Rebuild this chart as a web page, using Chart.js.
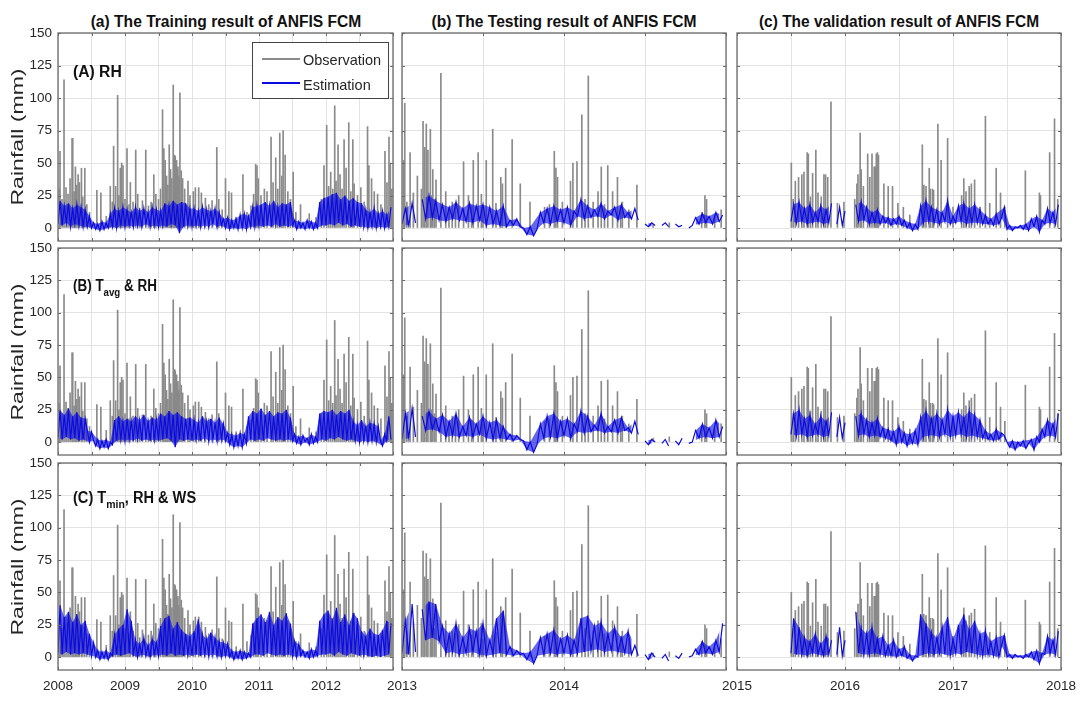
<!DOCTYPE html>
<html>
<head>
<meta charset="utf-8">
<script src="https://cdn.jsdelivr.net/npm/chart.js@4.4.1/dist/chart.umd.min.js"></script>
<style>
  html, body { margin: 0; padding: 0; background: #fff; overflow: hidden; }
  #fig { position: relative; width: 1085px; height: 702px; font-family: "Liberation Sans", Arial, sans-serif; color: #111; }
  #fig canvas { position: absolute; }
  .title { position: absolute; top: 13.5px; font-weight: bold; font-size: 16px; line-height: 16px; white-space: nowrap; transform-origin: center center; }
  .tag { position: absolute; left: 73px; font-weight: bold; font-size: 16px; line-height: 16px; white-space: nowrap; transform-origin: left center; }
  .tag sub { font-size: 11.5px; vertical-align: -5px; line-height: 0; }
  .ylab { position: absolute; left: 17px; font-size: 17px; line-height: 17px; white-space: nowrap; color: #262626; }
  #legend { position: absolute; left: 252px; top: 42px; width: 137px; height: 57px; box-sizing: border-box; border: 1px solid #444; background: #fff; }
  #legend .ln { position: absolute; left: 9px; width: 38px; }
  #legend span { position: absolute; left: 50px; font-size: 14.5px; line-height: 14.5px; color: #262626; white-space: nowrap; }
</style>
</head>
<body>
<div id="fig">
  <div class="title" data-w="271" data-cx="225.5">(a) The Training result of ANFIS FCM</div>
  <div class="title" data-w="265" data-cx="564">(b) The Testing result of ANFIS FCM</div>
  <div class="title" data-w="280" data-cx="899">(c) The validation result of ANFIS FCM</div>
</div>
<script>
// panel titles / row labels
const rowTags = ['(A) RH', '(B) T<sub>avg</sub> &amp; RH', '(C) T<sub>min</sub>, RH &amp; WS'];
const yTitle = 'Rainfall (mm)';
const legendNames = ['Observation', 'Estimation'];

// x tick labels shown under each column
const yearsTrain = [2008, 2009, 2010, 2011, 2012];
const yearsTest = [2013, 2014];
const yearsValid = [2015, 2016, 2017, 2018];
const yTicks = [0, 25, 50, 75, 100, 125, 150];

// observed rainfall spikes [decimal year, mm] (same for all three rows)
const obsTrain = [
  [2008.02,30],[2008.03,59],[2008.06,22],[2008.09,114],[2008.12,31],[2008.15,26],[2008.18,38],[2008.21,69],[2008.22,69],
  [2008.24,28],[2008.26,47],[2008.28,33],[2008.30,41],[2008.32,35],[2008.35,46],[2008.37,24],[2008.40,46],[2008.43,18],
  [2008.47,12],[2008.58,29],[2008.64,27],[2008.72,9],[2008.78,32],[2008.81,20],[2008.83,63],[2008.86,32],[2008.89,102],
  [2008.91,25],[2008.93,46],[2008.95,50],[2008.97,48],[2009.00,22],[2009.03,61],[2009.06,18],[2009.08,35],[2009.12,20],
  [2009.16,60],[2009.19,26],[2009.22,15],[2009.26,21],[2009.31,60],[2009.35,17],[2009.39,20],[2009.43,41],[2009.46,26],
  [2009.50,22],[2009.53,30],[2009.56,91],[2009.58,61],[2009.60,52],[2009.62,40],[2009.64,33],[2009.66,64],[2009.68,45],
  [2009.70,38],[2009.72,110],[2009.73,48],[2009.74,56],[2009.75,55],[2009.76,42],[2009.77,52],[2009.78,45],[2009.79,47],
  [2009.80,40],[2009.81,38],[2009.82,104],[2009.84,44],[2009.86,38],[2009.89,30],[2009.94,36],[2009.97,25],[2010.02,28],
  [2010.05,31],[2010.10,31],[2010.14,27],[2010.20,23],[2010.25,18],[2010.30,21],[2010.37,62],[2010.40,22],[2010.45,14],
  [2010.50,38],[2010.55,28],[2010.59,27],[2010.66,8],[2010.76,41],[2010.82,12],[2010.88,17],[2010.92,26],[2010.95,49],
  [2010.97,48],[2010.99,38],[2011.03,25],[2011.08,30],[2011.12,28],[2011.18,70],[2011.21,35],[2011.25,54],[2011.28,30],
  [2011.31,73],[2011.34,40],[2011.36,75],[2011.39,56],[2011.43,28],[2011.47,22],[2011.51,43],[2011.55,12],[2011.62,18],
  [2011.75,11],[2011.85,8],[2011.93,22],[2011.97,48],[2012.01,79],[2012.04,32],[2012.07,43],[2012.10,30],[2012.13,94],
  [2012.15,36],[2012.18,64],[2012.21,41],[2012.24,30],[2012.27,68],[2012.30,46],[2012.34,81],[2012.37,28],[2012.40,68],
  [2012.42,34],[2012.47,25],[2012.52,31],[2012.57,20],[2012.62,78],[2012.64,48],[2012.68,38],[2012.72,28],[2012.77,26],
  [2012.82,18],[2012.88,59],[2012.91,35],[2012.94,70],[2012.96,50],[2012.98,30]
];
const obsTest = [
  [2013.01,52],[2013.017,96],[2013.03,20],[2013.05,58],[2013.07,27],[2013.095,40],[2013.12,30],[2013.13,82],[2013.14,62],
  [2013.15,80],[2013.16,60],[2013.175,76],[2013.18,25],[2013.19,45],[2013.20,22],[2013.21,37],[2013.24,119],[2013.27,28],
  [2013.29,15],[2013.31,20],[2013.33,18],[2013.35,25],[2013.38,51],[2013.41,25],[2013.43,17],[2013.44,52],[2013.47,58],
  [2013.49,26],[2013.50,14],[2013.52,52],[2013.56,76],[2013.58,19],[2013.61,39],[2013.62,34],[2013.64,46],[2013.68,68],
  [2013.73,34],[2013.79,20],[2013.88,16],[2013.91,18],[2013.94,59],[2013.95,46],[2013.96,39],[2013.99,20],[2014.04,36],
  [2014.055,50],[2014.08,51],[2014.11,87],[2014.13,22],[2014.15,117],[2014.18,20],[2014.21,28],[2014.23,47],[2014.25,18],
  [2014.27,48],[2014.30,28],[2014.33,39],[2014.35,16],[2014.36,20],[2014.40,14],[2014.45,33],[2014.55,3],[2014.65,4],
  [2014.85,12],[2014.87,25],[2014.88,22],[2014.93,10],[2014.97,14]
];
const obsValid = [
  [2015.503,50],[2015.52,22],[2015.54,36],[2015.57,39],[2015.60,41],[2015.62,43],[2015.65,58],[2015.66,57],[2015.68,24],
  [2015.70,42],[2015.73,60],[2015.75,27],[2015.78,24],[2015.805,41],[2015.82,41],[2015.84,39],[2015.87,97],[2015.93,19],
  [2015.99,20],[2016.09,22],[2016.11,34],[2016.12,41],[2016.14,73],[2016.15,45],[2016.17,32],[2016.21,57],[2016.23,39],
  [2016.25,57],[2016.27,47],[2016.28,47],[2016.29,57],[2016.30,58],[2016.31,56],[2016.36,34],[2016.40,32],[2016.44,32],
  [2016.49,19],[2016.54,16],[2016.60,10],[2016.716,64],[2016.73,33],[2016.75,32],[2016.78,46],[2016.79,30],[2016.81,30],
  [2016.82,29],[2016.86,80],[2016.89,52],[2016.95,69],[2017.00,16],[2017.08,25],[2017.10,38],[2017.12,28],[2017.15,32],
  [2017.17,34],[2017.20,37],[2017.25,16],[2017.30,86],[2017.34,19],[2017.40,46],[2017.44,27],[2017.48,16],[2017.67,44],
  [2017.80,27],[2017.81,25],[2017.895,58],[2017.94,84],[2017.97,22]
];

// estimated rainfall, read as a zig-zag trace (low, high, low, ...) on a regular time grid
// train: from 2008, every 1/32 yr; test: from 2013, every 1/48 yr; validation: from 2015.5, every 1/40 yr
const estStart = [2008, 2013, 2015.5];
const estStep = [1 / 32, 1 / 48, 1 / 40];

// (A) RH
const estTrainA = [
  3,21,2,17,4,19,1,15,3,18,2,16,1,14,1,9,0,4,-1,3,-2,5,-1,4,0,11,1,15,0,13,2,16,
  1,14,2,12,1,16,2,13,1,15,3,12,1,16,2,14,1,13,2,19,1,17,3,21,2,18,-4,20,1,19,2,15,
  1,15,2,13,1,16,2,14,1,13,3,15,1,12,2,7,0,8,-1,6,0,7,-1,10,0,11,-1,9,1,16,1,17,
  2,18,1,20,2,17,1,21,3,16,1,19,2,18,1,20,2,6,-1,5,0,4,-1,6,0,5,-1,4,0,20,2,23,
  2,24,3,26,2,27,4,22,2,25,3,21,1,23,2,20,1,19,1,14,0,12,1,15,0,11,1,13,0,10,1,16
];
const estTestA = [
  3,15,2,19,4,null,22,7,25,8,21,6,18,5,16,7,20,6,15,5,19,4,17,6,18,2,16,3,13,2,17,1,
  6,2,7,1,0,-5,1,-6,-1,12,4,15,3,17,5,14,4,16,2,13,9,22,7,17,8,14,9,19,7,13,10,16,
  6,18,8,12,7,15,6,null,3,1,4,2,null,2,4,1,null,3,1,2,null,0,2,8,3,11,4,9,3,12,5,10
];
const estValidA = [
  5,18,4,20,5,15,3,18,4,12,5,17,3,14,4,19,null,3,16,2,13,null,null,null,18,5,20,6,16,
  3,12,4,14,3,9,4,8,2,7,3,9,2,6,0,4,-2,3,-1,17,4,21,5,16,4,14,3,12,5,21,3,9,
  4,17,5,19,3,15,4,18,4,14,3,10,3,7,2,11,3,8,16,-1,2,-2,1,0,2,-1,3,-2,7,1,9,-3,6,
  3,15,4,12,3,18
];

// (B) Tavg & RH
const estTrainB = [
  3,25,2,21,4,26,2,20,3,23,1,19,2,18,9,0,8,1,-3,2,-5,1,-4,2,-5,0,-2,17,1,20,2,16,
  1,18,2,16,1,20,3,17,1,21,2,16,1,19,2,17,1,22,2,20,3,24,1,21,-4,23,2,20,1,18,2,19,
  1,17,2,15,1,20,3,16,1,18,2,15,1,19,2,14,1,7,-2,6,-4,5,-3,7,-4,6,-1,20,2,24,1,22,
  2,26,1,21,3,24,2,20,1,23,2,22,1,25,2,19,1,6,-1,4,-2,5,0,3,-2,6,-1,4,0,22,2,24,
  1,23,3,25,2,21,4,24,2,22,1,25,2,16,1,13,0,17,1,12,0,15,1,14,0,12,1,-3,6,1,20,2
];
const estTestB = [
  2,22,3,26,4,null,20,9,24,10,18,8,21,4,16,5,22,4,12,5,19,4,14,6,20,3,15,2,17,3,12,2,
  6,1,5,2,1,-6,0,-8,-2,14,3,20,4,22,3,16,5,18,3,14,8,24,7,20,8,13,9,22,7,12,8,17,
  7,19,9,11,7,16,6,null,1,-2,2,0,null,-1,2,-3,null,1,-2,3,null,-1,0,9,3,14,4,11,3,17,4,12
];
const estValidB = [
  6,22,5,25,6,18,4,21,5,14,6,20,4,16,5,23,null,4,19,3,15,null,null,null,20,5,22,6,17,
  4,15,5,18,4,11,3,10,1,8,-2,12,0,7,-3,6,-1,9,-2,19,4,24,5,18,5,22,4,17,6,25,4,20,
  5,23,6,19,4,24,5,21,4,17,3,9,2,6,1,10,2,7,5,0,-4,1,-6,0,-3,1,-5,-1,2,-6,4,0,10,
  4,17,5,14,4,22
];

// (C) Tmin, RH & WS
const estTrainC = [
  3,40,2,31,4,35,2,27,3,33,2,25,3,28,2,18,1,11,0,5,-2,4,-1,5,-2,3,1,17,2,22,1,25,
  2,37,3,28,1,13,0,10,2,15,1,9,0,14,2,11,1,24,2,30,1,32,3,22,1,27,2,21,1,18,2,16,
  1,20,2,29,1,17,2,14,1,19,2,15,1,12,0,11,1,10,0,5,-2,4,-1,5,-2,4,-1,3,0,26,2,30,
  2,33,1,27,3,35,2,25,1,31,2,28,1,34,2,26,1,12,0,10,1,5,0,4,-1,6,0,5,1,28,2,33,
  2,36,3,29,1,38,4,27,2,33,1,25,3,34,2,30,1,20,2,16,1,22,0,18,1,17,0,21,1,28,2,26
];
const estTestC = [
  3,28,2,41,4,null,37,13,43,15,41,12,24,3,18,4,26,2,15,3,22,4,20,2,26,1,13,2,30,3,36,2,
  8,1,5,2,3,-2,4,-5,1,15,2,18,3,21,2,14,3,17,2,13,3,30,4,32,5,24,6,27,4,18,5,23,
  4,15,3,20,2,9,1,null,2,-2,3,0,null,-1,2,-3,null,1,-1,3,null,0,1,6,2,12,3,8,2,13,4,26
];
const estValidC = [
  3,30,2,23,2,15,1,12,3,18,2,10,1,16,2,13,null,2,23,1,13,null,null,null,35,3,22,2,18,
  2,23,3,14,2,16,1,9,1,13,0,6,1,8,-1,2,-3,1,0,33,2,26,3,19,2,15,3,23,2,31,1,14,
  3,25,2,33,4,21,3,28,2,18,1,20,2,12,1,15,0,9,17,0,2,-1,2,0,1,-1,2,0,4,-2,5,-5,3,
  2,16,3,13,2,20
];

const obsSets = [obsTrain, obsTest, obsValid];
const estSets = [
  [estTrainA, estTestA, estValidA],
  [estTrainB, estTestB, estValidB],
  [estTrainC, estTestC, estValidC]
];
const colYears = [yearsTrain, yearsTest, yearsValid];

// layout of the 3x3 grid (plot areas in page pixels)
const cols = [
  { x0: 58, x1: 393, min: 2008, max: 2013 },
  { x0: 402, x1: 726, min: 2013, max: 2015 },
  { x0: 737, x1: 1061, min: 2015, max: 2018 }
];
const rows = [
  { y0: 33, y1: 241, tagBase: 77 },
  { y0: 248, y1: 455, tagBase: 291 },
  { y0: 463, y1: 670, tagBase: 503 }
];

const obsColor = '#8a8a8a';
const estColor = '#0b0be0';
const bandColor = 'rgba(20,20,225,0.65)';
const gridColor = '#e3e3e3';
const boxColor = '#6a6a6a';
const tickColor = '#262626';

function hasFont(name) {
  const c = document.createElement('canvas').getContext('2d');
  c.font = '20px monospace';
  const a = c.measureText('2008 Observation').width;
  c.font = '20px "' + name + '", monospace';
  const b = c.measureText('2008 Observation').width;
  return a !== b;
}
const narrow = hasFont('Liberation Sans Narrow');
const tickFont = narrow
  ? { family: '"Liberation Sans Narrow"', size: 16 }
  : { family: '"Liberation Sans"', size: 13.5 };

// box around the axes with small inward ticks, like the original figure
const boxPlugin = {
  id: 'box',
  afterDraw(chart) {
    const { ctx, chartArea: a, scales } = chart;
    ctx.save();
    ctx.strokeStyle = boxColor;
    ctx.lineWidth = 1;
    ctx.beginPath();
    scales.x.ticks.forEach(t => {
      const px = Math.round(scales.x.getPixelForValue(t.value)) + 0.5;
      ctx.moveTo(px, a.bottom); ctx.lineTo(px, a.bottom - 3);
      ctx.moveTo(px, a.top); ctx.lineTo(px, a.top + 3);
    });
    scales.y.ticks.forEach(t => {
      const py = Math.round(scales.y.getPixelForValue(t.value)) + 0.5;
      ctx.moveTo(a.left, py); ctx.lineTo(a.left + 3, py);
      ctx.moveTo(a.right, py); ctx.lineTo(a.right - 3, py);
    });
    ctx.stroke();
    ctx.lineWidth = 1.3;
    ctx.strokeRect(a.left, a.top, a.right - a.left, a.bottom - a.top);
    ctx.restore();
  }
};

const fig = document.getElementById('fig');

// envelope of the zig-zag: each value goes to the upper or lower edge of the band
function bandOf(vals, start, step) {
  const hi = [], lo = [];
  for (let i = 0; i + 1 < vals.length; i += 2) {
    const a = vals[i], b = vals[i + 1];
    if (a === null || b === null) {
      const x = start + (i + 0.5) * step;
      hi.push({ x, y: null }); lo.push({ x, y: null });
    } else if (a <= b) {
      lo.push({ x: start + i * step, y: a }); hi.push({ x: start + (i + 1) * step, y: b });
    } else {
      hi.push({ x: start + i * step, y: a }); lo.push({ x: start + (i + 1) * step, y: b });
    }
  }
  return { hi, lo };
}

function makePanel(r, c) {
  const col = cols[c], row = rows[r];
  const PL = c === 0 ? 58 : 24, PR = 24, PT = 10, PB = r === 2 ? 34 : 10;
  const w = col.x1 - col.x0, h = row.y1 - row.y0;
  const cv = document.createElement('canvas');
  cv.width = w + PL + PR;
  cv.height = h + PT + PB;
  cv.style.left = (col.x0 - PL) + 'px';
  cv.style.top = (row.y0 - PT) + 'px';
  cv.style.width = cv.width + 'px';
  cv.style.height = cv.height + 'px';
  fig.appendChild(cv);

  const start = estStart[c], step = estStep[c];
  const vals = estSets[r][c];
  const est = vals.map((v, i) => ({ x: start + i * step, y: v }));
  const band = bandOf(vals, start, step);
  const obs = obsSets[c].map(p => ({ x: p[0], y: p[1] }));
  const shown = colYears[c];

  new Chart(cv, {
    type: 'line',
    data: {
      datasets: [
        { type: 'line', label: 'band-hi', data: band.hi, borderWidth: 0, pointRadius: 0, tension: 0,
          spanGaps: false, fill: '+1', backgroundColor: bandColor, order: 2 },
        { type: 'line', label: 'band-lo', data: band.lo, borderWidth: 0, pointRadius: 0, tension: 0,
          spanGaps: false, fill: false, order: 2 },
        { type: 'line', label: legendNames[1], data: est, borderColor: estColor, borderWidth: 1.2,
          pointRadius: 0, tension: 0, spanGaps: false, fill: false, order: 1 },
        { type: 'bar', label: legendNames[0], data: obs, backgroundColor: obsColor,
          barThickness: 1, order: 3 }
      ]
    },
    options: {
      responsive: false,
      animation: false,
      devicePixelRatio: 1,
      events: [],
      layout: { padding: { left: c === 0 ? 0 : PL, right: PR, top: PT, bottom: r === 2 ? 0 : PB } },
      plugins: { legend: { display: false }, tooltip: { enabled: false } },
      scales: {
        x: {
          type: 'linear', min: col.min, max: col.max, offset: false,
          border: { display: false },
          grid: { color: gridColor, lineWidth: 1, drawTicks: false, offset: false },
          ticks: {
            display: r === 2, stepSize: 0.5, autoSkip: false, maxRotation: 0, minRotation: 0,
            padding: 8, color: tickColor, font: tickFont,
            callback: v => {
              const yr = Math.round(v);
              return Math.abs(v - yr) < 1e-6 && shown.includes(yr) ? String(yr) : '';
            }
          },
          afterFit: s => { s.height = r === 2 ? 34 : 0; s.paddingLeft = 0; s.paddingRight = 0; }
        },
        y: {
          min: -10, max: 150,
          border: { display: false },
          grid: { color: gridColor, lineWidth: 1, drawTicks: false },
          ticks: {
            display: c === 0, stepSize: 25, includeBounds: false, padding: 6,
            color: tickColor, font: tickFont,
            callback: v => yTicks.includes(v) ? String(v) : ''
          },
          afterFit: s => { s.width = c === 0 ? 58 : 0; s.paddingTop = 0; s.paddingBottom = 0; }
        }
      }
    },
    plugins: [boxPlugin]
  });
}

for (let r = 0; r < 3; r++) {
  for (let c = 0; c < 3; c++) makePanel(r, c);
}

// row labels and y-axis titles
const tagWidths = [49, 84, 123];
rows.forEach((row, r) => {
  const tag = document.createElement('div');
  tag.className = 'tag';
  tag.innerHTML = rowTags[r];
  tag.style.top = (row.tagBase - 13.5) + 'px';
  fig.appendChild(tag);
  tag.style.transform = 'scaleX(' + (tagWidths[r] / tag.offsetWidth) + ')';

  const yl = document.createElement('div');
  yl.className = 'ylab';
  yl.textContent = yTitle;
  yl.style.top = ((row.y0 + row.y1) / 2) + 'px';
  fig.appendChild(yl);
  const k = 137 / yl.offsetWidth;
  yl.style.transform = 'translate(-50%,-50%) rotate(-90deg) scaleX(' + k + ')';
});

// panel titles
document.querySelectorAll('.title').forEach(el => {
  const k = Number(el.dataset.w) / el.offsetWidth;
  el.style.left = el.dataset.cx + 'px';
  el.style.transform = 'translateX(-50%) scaleX(' + k + ')';
});

// legend (top-left panel)
const lg = document.createElement('div');
lg.id = 'legend';
lg.innerHTML =
  '<div class="ln" style="top:15px;height:1.5px;background:' + obsColor + '"></div>' +
  '<span style="top:10.4px">' + legendNames[0] + '</span>' +
  '<div class="ln" style="top:39px;height:2.2px;background:' + estColor + '"></div>' +
  '<span style="top:34.7px">' + legendNames[1] + '</span>';
fig.appendChild(lg);
</script>
</body>
</html>
